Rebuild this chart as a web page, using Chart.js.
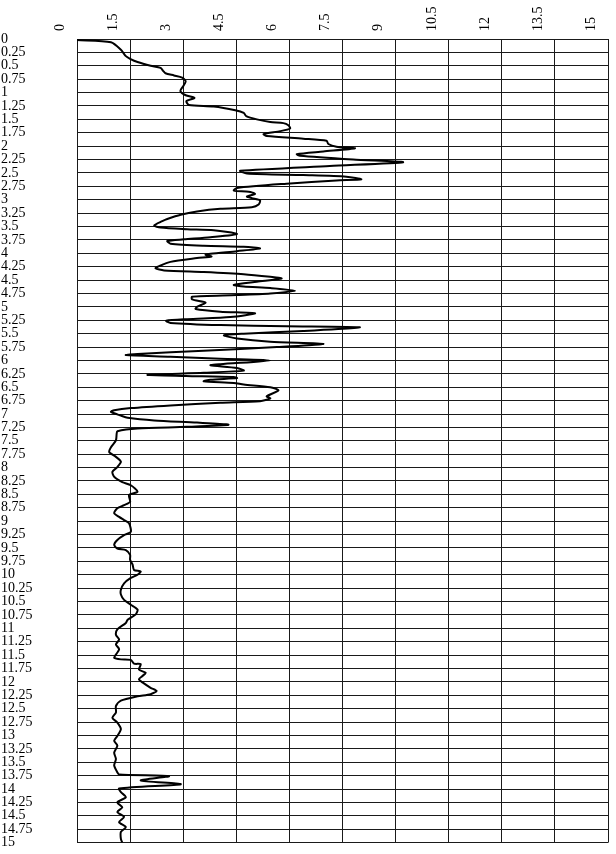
<!DOCTYPE html>
<html>
<head>
<meta charset="utf-8">
<script src="https://cdn.jsdelivr.net/npm/chart.js@4"></script>
<style>
	body { margin: 0; background: #fff; }
</style>
</head>
<body>
<canvas id="grafico" width="616" height="854"></canvas>
<script>
//Profundidade (eixo vertical) e valor lido em cada ponto
var depths = [
	0.02, 0.06, 0.2, 0.32, 0.37, 0.43, 0.5, 0.54, 0.6, 0.64, 0.68, 0.72, 0.79, 0.88, 0.97,
	1.05, 1.1, 1.16, 1.23, 1.26, 1.33, 1.38, 1.44, 1.5, 1.55, 1.57, 1.61, 1.67, 1.72, 1.775,
	1.81, 1.86, 1.9, 1.96, 2.01, 2.04, 2.1, 2.15, 2.18, 2.25, 2.3, 2.37, 2.46, 2.51, 2.54,
	2.57, 2.62, 2.64, 2.7, 2.78, 2.83, 2.85, 2.89, 2.94, 2.97, 3.01, 3.09, 3.14, 3.17, 3.22,
	3.28, 3.36, 3.4, 3.48, 3.52, 3.55, 3.57, 3.64, 3.7, 3.74, 3.77, 3.82, 3.86, 3.88, 3.91,
	3.96, 4.01, 4.03, 4.06, 4.09, 4.16, 4.24, 4.28, 4.32, 4.35, 4.39, 4.44, 4.47, 4.53, 4.59,
	4.62, 4.65, 4.7, 4.75, 4.78, 4.81, 4.86, 4.92, 5.0, 5.04, 5.09, 5.12, 5.19, 5.23, 5.26,
	5.3, 5.34, 5.36, 5.38, 5.45, 5.5, 5.53, 5.59, 5.65, 5.69, 5.75, 5.82, 5.88, 5.9, 5.93,
	5.97, 6.0, 6.07, 6.09, 6.14, 6.19, 6.23, 6.27, 6.29, 6.31, 6.33, 6.36, 6.39, 6.42, 6.45,
	6.5, 6.56, 6.67, 6.71, 6.76, 6.79, 6.84, 6.89, 6.93, 6.96, 7.03, 7.07, 7.12, 7.16, 7.2,
	7.24, 7.27, 7.32, 7.37, 7.49, 7.62, 7.71, 7.8, 7.89, 7.99, 8.08, 8.17, 8.27, 8.33, 8.45,
	8.51, 8.64, 8.7, 8.76, 8.85, 8.92, 8.98, 9.04, 9.2, 9.26, 9.35, 9.44, 9.51, 9.54, 9.63,
	9.72, 9.81, 9.91, 9.94, 10.0, 10.06, 10.16, 10.28, 10.37, 10.47, 10.56, 10.65, 10.74, 10.84, 10.9,
	11.02, 11.12, 11.21, 11.3, 11.39, 11.49, 11.55, 11.58, 11.59, 11.66, 11.67, 11.77, 11.83, 11.89, 11.95,
	12.01, 12.11, 12.17, 12.23, 12.27, 12.35, 12.45, 12.57, 12.67, 12.76, 12.88, 13.01, 13.1, 13.19, 13.32,
	13.44, 13.56, 13.69, 13.73, 13.76, 13.84, 13.91, 13.99, 14.06, 14.15, 14.25, 14.34, 14.43, 14.52, 14.62,
	14.71, 14.8, 14.93, 15.0
];

var values = [
	0.0, 0.96, 1.24, 1.38, 1.5, 1.71, 2.08, 2.36, 2.44, 2.5, 2.74, 2.97, 3.07, 3.0, 2.92,
	3.07, 3.32, 3.09, 3.16, 3.86, 4.47, 4.71, 4.78, 5.08, 5.46, 5.83, 5.97, 6.02, 5.74, 5.27,
	5.36, 6.39, 7.05, 7.1, 7.33, 7.85, 6.96, 6.21, 6.3, 7.8, 9.21, 7.14, 4.61, 4.8, 6.39,
	7.61, 8.03, 7.33, 5.92, 4.52, 4.43, 4.85, 5.03, 4.8, 4.94, 5.17, 5.13, 4.94, 4.05, 3.39,
	2.93, 2.55, 2.41, 2.18, 2.36, 3.11, 3.86, 4.52, 3.77, 3.02, 2.55, 2.64, 3.58, 4.71, 5.17,
	4.52, 3.77, 3.63, 3.8, 3.39, 2.64, 2.32, 2.22, 2.46, 3.58, 4.71, 5.46, 5.78, 5.08, 4.43,
	4.71, 5.46, 6.16, 5.46, 4.52, 3.25, 3.25, 3.63, 3.39, 3.35, 4.05, 5.03, 4.33, 3.11, 2.52,
	2.64, 4.05, 5.92, 7.99, 6.39, 4.71, 4.15, 4.52, 5.46, 6.96, 5.65, 3.58, 1.71, 1.38, 2.64,
	4.05, 5.46, 4.05, 3.77, 4.52, 4.71, 3.58, 1.99, 3.08, 4.43, 4.52, 3.77, 3.58, 4.43, 4.71,
	5.46, 5.69, 5.36, 5.46, 5.17, 4.05, 2.64, 1.52, 1.05, 0.96, 1.24, 1.43, 2.18, 3.39, 4.28,
	3.11, 1.71, 1.14, 1.12, 1.1, 0.96, 0.91, 1.1, 1.24, 1.14, 1.0, 1.05, 1.28, 1.52, 1.71,
	1.47, 1.5, 1.33, 1.14, 1.05, 1.19, 1.33, 1.47, 1.52, 1.33, 1.14, 1.05, 1.14, 1.38, 1.5,
	1.5, 1.57, 1.61, 1.8, 1.71, 1.52, 1.33, 1.24, 1.24, 1.33, 1.52, 1.71, 1.66, 1.43, 1.38,
	1.14, 1.1, 1.19, 1.1, 1.19, 1.1, 1.05, 1.24, 1.52, 1.61, 1.8, 1.75, 1.94, 1.85, 1.75,
	1.85, 2.08, 2.25, 2.08, 1.71, 1.24, 1.1, 1.1, 1.0, 1.14, 1.24, 1.14, 1.05, 1.14, 1.05,
	1.1, 1.05, 1.14, 1.19, 2.6, 1.8, 2.93, 1.19, 1.24, 1.38, 1.14, 1.28, 1.14, 1.33, 1.19,
	1.38, 1.24, 1.24, 1.28
];

//Limites e passo dos eixos
var xRange = [0, 15];
var xStep = 1.5;
var yRange = [0, 15];
var yStep = 0.25;

var pontos = [];
for (var i = 0; i < depths.length; i++) {
	pontos.push({x: values[i], y: depths[i]});
}

//Rotulo sem zeros sobrando (0.25, 0.5, 1)
var formata = function(v) {
	return String(Number(v.toFixed(2)));
};

var fonte = {family: "'Liberation Serif', 'Times New Roman', serif", size: 14};
var corGrade = '#1a1a1a';

var config = {
	type: 'scatter',
	data: {
		datasets: [{
			data: pontos,
			showLine: true,
			borderColor: '#000',
			borderWidth: 2,
			pointRadius: 0,
			tension: 0.25,
			fill: false
		}]
	},
	options: {
		responsive: false,
		animation: false,
		layout: {
			padding: {left: 1, right: 8, top: 0, bottom: 8}
		},
		plugins: {
			legend: {display: false},
			tooltip: {enabled: false}
		},
		scales: {
			x: {
				type: 'linear',
				position: 'top',
				min: xRange[0],
				max: xRange[1],
				ticks: {
					stepSize: xStep,
					autoSkip: false,
					minRotation: 90,
					maxRotation: 90,
					padding: 8,
					color: '#000',
					font: fonte,
					callback: formata
				},
				grid: {color: corGrade, lineWidth: 1, drawTicks: false},
				border: {color: corGrade},
				afterFit: function(scale) { scale.height = 39; }
			},
			y: {
				type: 'linear',
				reverse: true,
				min: yRange[0],
				max: yRange[1],
				ticks: {
					stepSize: yStep,
					autoSkip: false,
					crossAlign: 'far',
					color: '#000',
					font: fonte,
					callback: formata
				},
				grid: {color: corGrade, lineWidth: 1, drawTicks: false},
				border: {color: corGrade},
				afterFit: function(scale) { scale.width = 76; }
			}
		}
	}
};

window.onload = function() {
	var ctx = document.getElementById("grafico").getContext("2d");
	window.meuGrafico = new Chart(ctx, config);
};
</script>
</body>
</html>
